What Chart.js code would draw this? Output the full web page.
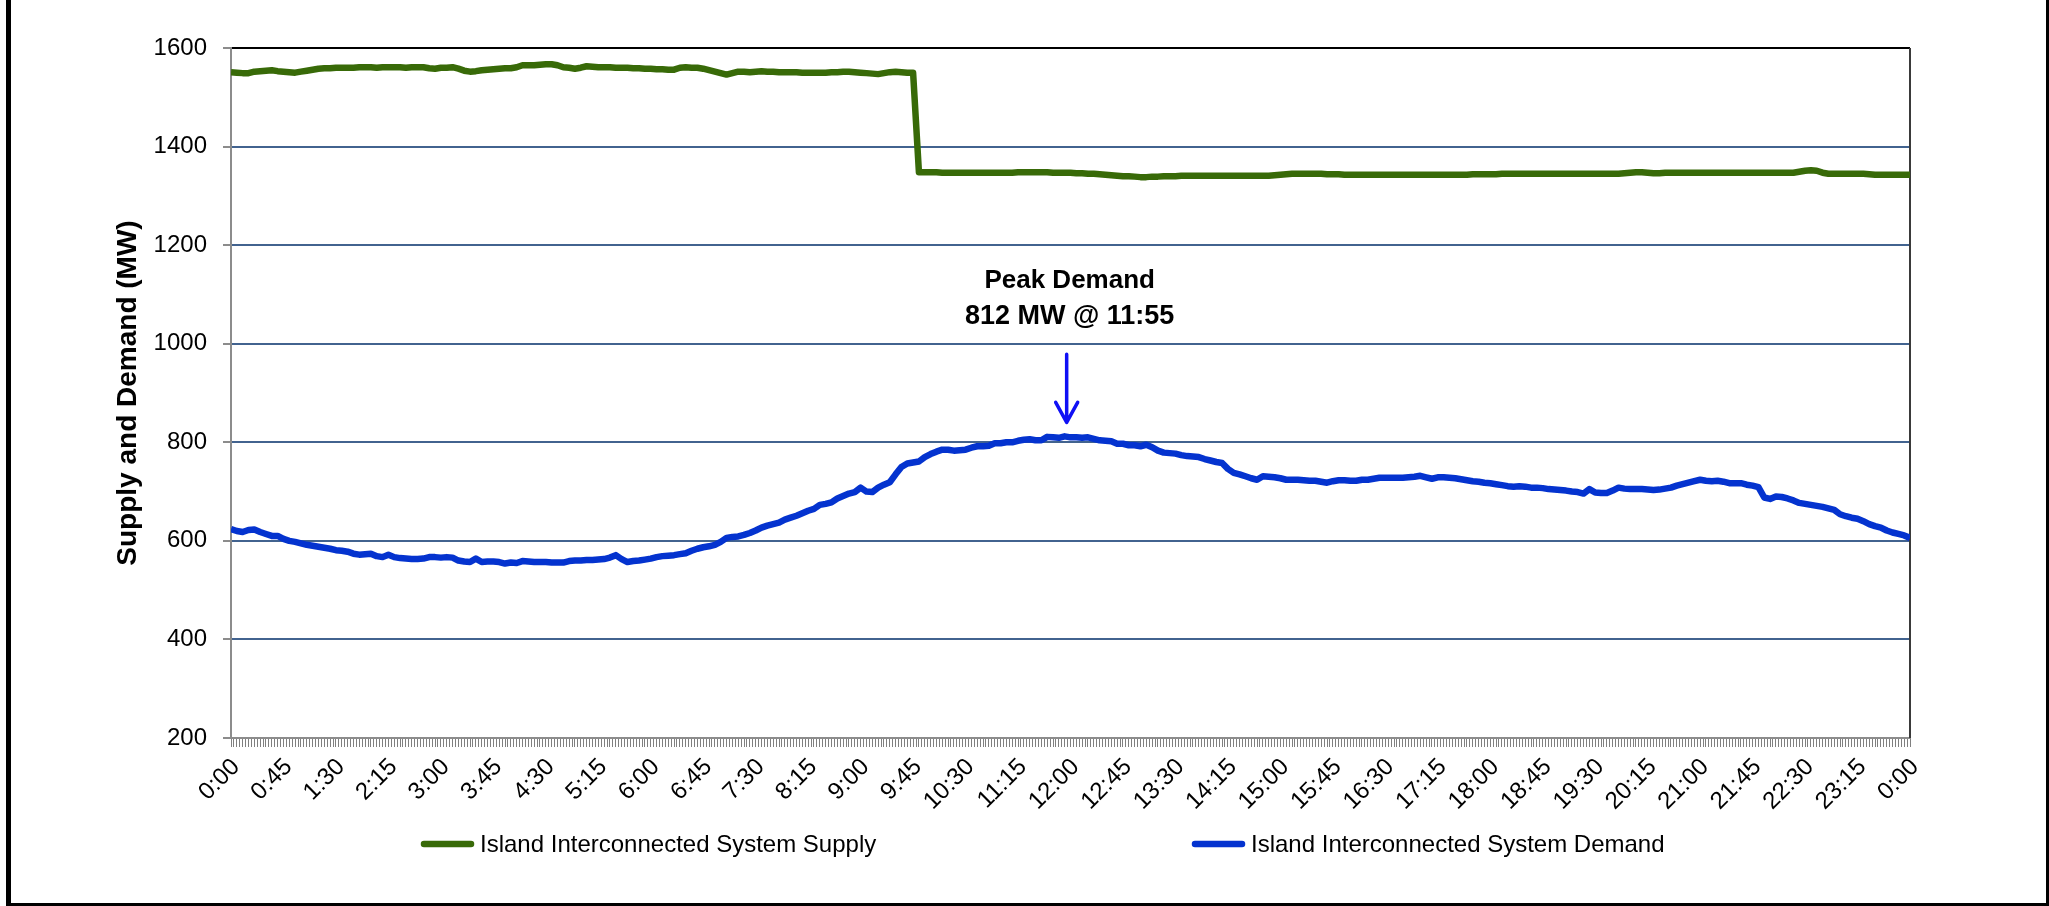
<!DOCTYPE html>
<html>
<head>
<meta charset="utf-8">
<title>Island Interconnected System Supply and Demand</title>
<script src="https://cdn.jsdelivr.net/npm/chart.js@4.4.1/dist/chart.umd.min.js"></script>
<style>
  html, body { margin: 0; padding: 0; background: #fff; }
  #wrap { width: 2049px; height: 906px; }
</style>
</head>
<body>
<div id="wrap"><canvas id="supplyDemandChart" width="2049" height="906"></canvas></div>
<script>
// --- 1. Data (5-minute readings, 0:00 to 0:00 next day) ---
const STEP_MINUTES = 5;

const supplyMW = [
    1551,1550,1549,1549,1552,1553,1554,1555,1553,1552,1551,1550,
    1552,1554,1556,1558,1559,1559,1560,1560,1560,1560,1561,1561,
    1561,1560,1561,1561,1561,1561,1560,1561,1561,1561,1559,1558,
    1560,1560,1561,1558,1554,1552,1553,1555,1556,1557,1558,1559,
    1559,1561,1565,1565,1565,1566,1567,1567,1565,1561,1560,1558,
    1560,1563,1562,1561,1561,1561,1560,1560,1560,1559,1559,1558,
    1558,1557,1557,1556,1556,1560,1561,1560,1560,1558,1555,1552,
    1549,1546,1549,1552,1552,1551,1552,1553,1552,1552,1551,1551,
    1551,1551,1550,1550,1550,1550,1550,1551,1551,1552,1552,1551,
    1550,1549,1548,1547,1549,1551,1552,1551,1550,1550,1348,1348,
    1348,1348,1347,1347,1347,1347,1347,1347,1347,1347,1347,1347,
    1347,1347,1347,1348,1348,1348,1348,1348,1348,1347,1347,1347,
    1347,1346,1346,1345,1345,1344,1343,1342,1341,1340,1340,1339,
    1338,1338,1339,1339,1340,1340,1340,1341,1341,1341,1341,1341,
    1341,1341,1341,1341,1341,1341,1341,1341,1341,1341,1341,1342,
    1343,1344,1345,1345,1345,1345,1345,1345,1344,1344,1344,1343,
    1343,1343,1343,1343,1343,1343,1343,1343,1343,1343,1343,1343,
    1343,1343,1343,1343,1343,1343,1343,1343,1343,1344,1344,1344,
    1344,1344,1345,1345,1345,1345,1345,1345,1345,1345,1345,1345,
    1345,1345,1345,1345,1345,1345,1345,1345,1345,1345,1345,1346,
    1347,1348,1348,1347,1346,1346,1347,1347,1347,1347,1347,1347,
    1347,1347,1347,1347,1347,1347,1347,1347,1347,1347,1347,1347,
    1347,1347,1347,1347,1347,1349,1351,1352,1351,1347,1345,1345,
    1345,1345,1345,1345,1345,1344,1343,1343,1343,1343,1343,1343,
    1343
];

const demandMW = [
    624,620,618,622,623,618,614,610,610,604,600,598,
    595,592,590,588,586,584,581,580,578,574,572,573,
    574,569,567,572,567,565,564,563,563,564,567,567,
    566,567,566,560,558,557,564,557,558,558,557,554,
    556,555,559,558,557,557,557,556,556,556,559,560,
    560,561,561,562,563,566,571,563,557,559,560,562,
    564,567,569,570,571,573,575,580,584,587,589,592,
    598,606,608,609,612,616,621,627,631,634,637,643,
    647,651,656,661,665,673,675,678,686,691,696,699,
    708,700,699,708,714,719,735,750,757,759,761,770,
    776,781,785,785,783,784,785,789,792,792,793,798,
    798,800,800,803,805,806,804,804,811,810,809,812,
    810,810,809,810,807,804,803,802,797,797,794,794,
    792,795,790,783,779,778,777,774,772,771,770,766,
    763,760,758,746,738,735,731,727,724,731,730,729,
    727,724,724,724,723,722,722,720,718,721,723,723,
    722,722,724,724,726,728,728,728,728,728,729,730,
    732,729,726,729,729,728,727,725,723,721,720,718,
    717,715,713,711,710,711,710,708,708,707,705,704,
    703,702,700,699,696,705,698,697,697,702,708,706,
    705,705,705,704,703,704,706,708,712,715,718,721,
    724,722,721,722,720,717,717,717,714,712,709,688,
    685,690,689,686,682,677,675,673,671,669,666,663,
    654,650,647,645,640,634,630,627,621,617,614,611,
    606
];

// Axis labels, one every 45 minutes
const xTickLabels = [
    '0:00','0:45','1:30','2:15','3:00','3:45','4:30','5:15','6:00','6:45','7:30',
    '8:15','9:00','9:45','10:30','11:15','12:00','12:45','13:30','14:15','15:00',
    '15:45','16:30','17:15','18:00','18:45','19:30','20:15','21:00','21:45','22:30',
    '23:15','0:00'
];
const X_LABEL_EVERY = 45;
const yTicks = [200, 400, 600, 800, 1000, 1200, 1400, 1600];

const seriesNames = ['Island Interconnected System Supply', 'Island Interconnected System Demand'];
const seriesColors = ['#386a08', '#0433cf'];

// Minutes since midnight for each reading
const timesMin = demandMW.map((_, i) => i * STEP_MINUTES);

const FONT = '"Liberation Sans", Arial, sans-serif';

// --- 2. Helpers ---
function fmtTime(min) {
    const h = Math.floor(min / 60) % 24;
    const m = min % 60;
    return `${h}:${String(m).padStart(2, '0')}`;
}

const peakIndex = demandMW.indexOf(Math.max(...demandMW));
const peakTime = timesMin[peakIndex];
const peakValue = demandMW[peakIndex];

// --- 3. Plugins ---
// Peak demand label and arrow, anchored on the peak point
const peakAnnotation = {
    id: 'peakAnnotation',
    afterDatasetsDraw(chart) {
        const { ctx, scales: { x, y } } = chart;
        const px = x.getPixelForValue(peakTime);
        const py = y.getPixelForValue(peakValue);
        ctx.save();
        ctx.fillStyle = '#000';
        ctx.font = `bold 26px ${FONT}`;
        ctx.textAlign = 'center';
        ctx.textBaseline = 'middle';
        ctx.fillText('Peak Demand', px + 5, py - 156);
        ctx.font = `bold 27px ${FONT}`;
        ctx.fillText(`${peakValue} MW @ ${fmtTime(peakTime)}`, px + 5, py - 120);

        ctx.strokeStyle = '#1010f5';
        ctx.lineWidth = 3.5;
        ctx.lineCap = 'round';
        ctx.lineJoin = 'round';
        ctx.beginPath();
        ctx.moveTo(px + 2, py - 82);
        ctx.lineTo(px + 2, py - 14);
        ctx.moveTo(px - 9, py - 34);
        ctx.lineTo(px + 2, py - 14);
        ctx.lineTo(px + 13, py - 34);
        ctx.stroke();
        ctx.restore();
    }
};

// Legend below the axis, two items spread wide
const bottomLegend = {
    id: 'bottomLegend',
    afterDraw(chart) {
        const { ctx, chartArea } = chart;
        const offsets = [190, 961];
        const yMid = 844;
        chart.data.datasets.forEach((ds, i) => {
            const x0 = chartArea.left + offsets[i];
            ctx.save();
            ctx.strokeStyle = ds.borderColor;
            ctx.lineWidth = 6.5;
            ctx.lineCap = 'round';
            ctx.beginPath();
            ctx.moveTo(x0 + 3, yMid);
            ctx.lineTo(x0 + 50, yMid);
            ctx.stroke();
            ctx.fillStyle = '#000';
            ctx.font = `24px ${FONT}`;
            ctx.textBaseline = 'middle';
            ctx.fillText(ds.label, x0 + 59, yMid + 1);
            ctx.restore();
        });
    }
};

// Plot right edge and the outer frame
const frames = {
    id: 'frames',
    beforeDatasetsDraw(chart) {
        const { ctx, chartArea } = chart;
        ctx.save();
        ctx.strokeStyle = '#3a3a3a';
        ctx.lineWidth = 2;
        ctx.beginPath();
        ctx.moveTo(chartArea.right, chartArea.top);
        ctx.lineTo(chartArea.right, chartArea.bottom);
        ctx.stroke();
        ctx.restore();
    },
    afterDraw(chart) {
        const { ctx, width, height } = chart;
        ctx.save();
        ctx.fillStyle = '#000';
        ctx.fillRect(6, 0, 5, height);
        ctx.fillRect(6, height - 3, width - 6, 3);
        ctx.fillRect(width - 3, 0, 3, height);
        ctx.restore();
    }
};

// --- 4. Chart ---
const chartCanvas = document.getElementById('supplyDemandChart').getContext('2d');

new Chart(chartCanvas, {
    type: 'line',
    data: {
        datasets: [
            {
                label: seriesNames[0],
                data: timesMin.map((t, i) => ({ x: t, y: supplyMW[i] })),
                borderColor: seriesColors[0],
                backgroundColor: seriesColors[0],
                borderWidth: 6.5,
                borderJoinStyle: 'round',
                pointRadius: 0,
                fill: false,
                tension: 0
            },
            {
                label: seriesNames[1],
                data: timesMin.map((t, i) => ({ x: t, y: demandMW[i] })),
                borderColor: seriesColors[1],
                backgroundColor: seriesColors[1],
                borderWidth: 6.5,
                borderJoinStyle: 'round',
                pointRadius: 0,
                fill: false,
                tension: 0
            }
        ]
    },
    options: {
        responsive: false,
        animation: false,
        layout: { padding: { top: 48, right: 139, bottom: 68, left: 60 } },
        scales: {
            x: {
                type: 'linear',
                min: 0,
                max: 1440,
                grid: { drawOnChartArea: false, drawTicks: true, tickLength: 9, color: '#808080', lineWidth: 1 },
                border: { color: '#8c8c8c', width: 2 },
                ticks: {
                    stepSize: 2.5,
                    autoSkip: false,
                    minRotation: 45,
                    maxRotation: 45,
                    padding: 6,
                    labelOffset: 5,
                    color: '#000',
                    font: { family: FONT, size: 24 },
                    callback: (v) => (v % X_LABEL_EVERY === 0) ? xTickLabels[Math.round(v / X_LABEL_EVERY)] : ''
                },
                afterFit: (scale) => { scale.height = 100; }
            },
            y: {
                min: yTicks[0],
                max: yTicks[yTicks.length - 1],
                afterBuildTicks: (scale) => { scale.ticks = yTicks.map(v => ({ value: v })); },
                grid: {
                    color: (c) => c.tick && c.tick.value === 1600 ? '#000' : '#42638f',
                    lineWidth: 2,
                    tickColor: '#8c8c8c',
                    tickLength: 8
                },
                border: { color: '#8c8c8c', width: 2 },
                ticks: {
                    padding: 16,
                    color: '#000',
                    font: { family: FONT, size: 24 },
                    callback: (v) => String(v)
                },
                title: {
                    display: true,
                    text: 'Supply and Demand (MW)',
                    color: '#000',
                    font: { family: FONT, size: 28, weight: 'bold' },
                    padding: { top: 51, bottom: 0 }
                },
                afterFit: (scale) => { scale.width = 171; }
            }
        },
        plugins: {
            legend: { display: false },
            tooltip: { enabled: false }
        }
    },
    plugins: [frames, peakAnnotation, bottomLegend]
});
</script>
</body>
</html>
